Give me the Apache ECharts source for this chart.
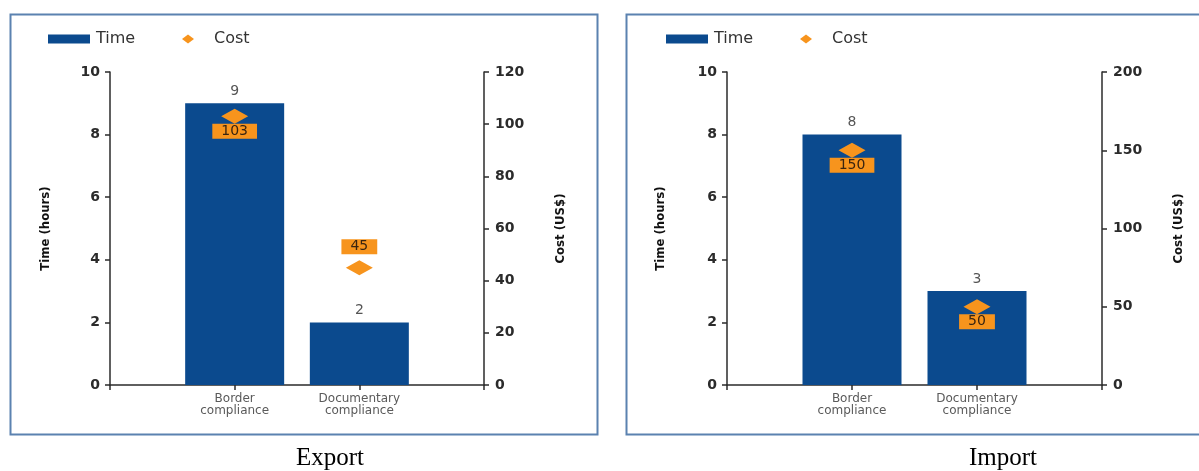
<!DOCTYPE html>
<html>
<head>
<meta charset="utf-8">
<script src="https://cdn.jsdelivr.net/npm/echarts@6/dist/echarts.min.js"></script>
<style>
  html, body { margin: 0; padding: 0; background: #ffffff; }
  #chart { width: 1199px; height: 471px; }
</style>
</head>
<body>
<div id="chart"></div>
<script>
// Procedures shown on the category axis
const categories = ['Border\ncompliance', 'Documentary\ncompliance'];

// Export: time in hours and cost in US$
const exportTime = [9, 2];
const exportCost = [103, 45];

// Import: time in hours and cost in US$
const importTime = [8, 3];
const importCost = [150, 50];

// Axis ranges
const timeAxis = { min: 0, max: 10, interval: 2 };
const exportCostAxis = { min: 0, max: 120, interval: 20 };
const importCostAxis = { min: 0, max: 200, interval: 50 };

const panelTitles = ['Export', 'Import'];

const BLUE = '#0b4a8e';
const ORANGE = '#f7941d';
const AXIS = '#2b2b2b';

// The category axis has an empty slot at each end so the two bars sit in the middle
const padCats = ['', ...categories, ''];
const pad = arr => ['-', ...arr, '-'];

function costData(values, positions) {
  return pad(values).map((v, i) => {
    if (v === '-') return v;
    const pos = positions[i - 1];
    return { value: v, label: { position: pos, distance: pos === 'top' ? 6 : 0 } };
  });
}

function valueLabel(margin) {
  return { color: AXIS, fontFamily: 'DejaVu Sans', fontWeight: 'bold', fontSize: 14, margin };
}
const axisNameStyle = {
  fontFamily: "'DejaVu Sans Condensed', 'Liberation Sans Narrow', 'Liberation Sans', sans-serif",
  fontWeight: 'bold', fontSize: 13, color: '#111'
};

function yAxes(gridIndex, costRange, leftGap, rightGap) {
  return [
    {
      type: 'value', gridIndex, position: 'left', ...timeAxis,
      name: 'Time (hours)', nameLocation: 'middle', nameGap: leftGap, nameTextStyle: axisNameStyle,
      axisLine: { show: true, lineStyle: { color: AXIS, width: 1.5 } },
      axisTick: { show: true, length: 5, lineStyle: { color: AXIS, width: 1.5 } },
      axisLabel: valueLabel(10),
      splitLine: { show: false }
    },
    {
      type: 'value', gridIndex, position: 'right', ...costRange,
      name: 'Cost (US$)', nameLocation: 'middle', nameGap: rightGap, nameTextStyle: axisNameStyle,
      axisLine: { show: true, lineStyle: { color: AXIS, width: 1.5 } },
      axisTick: { show: true, length: 5, lineStyle: { color: AXIS, width: 1.5 } },
      axisLabel: valueLabel(11),
      splitLine: { show: false }
    }
  ];
}

function xAxis(gridIndex) {
  return {
    type: 'category', gridIndex, data: padCats, boundaryGap: false,
    axisLine: { lineStyle: { color: AXIS, width: 1.5 } },
    axisTick: { show: true, length: 5, lineStyle: { color: AXIS, width: 1.5 } },
    axisLabel: {
      color: '#5a5a5a', fontFamily: 'DejaVu Sans', fontSize: 12, lineHeight: 12, margin: 8,
      interval: 0
    }
  };
}

function barSeries(data, xi, yi) {
  return {
    name: 'Time', type: 'bar', xAxisIndex: xi, yAxisIndex: yi, data: pad(data),
    barWidth: 99, itemStyle: { color: BLUE },
    label: { show: true, position: 'top', distance: 5, color: '#555', fontSize: 14, fontFamily: 'DejaVu Sans' },
    z: 2
  };
}

function costSeries(data, xi, yi) {
  return {
    name: 'Cost', type: 'scatter', xAxisIndex: xi, yAxisIndex: yi, data,
    symbol: 'diamond', symbolSize: [27, 15], itemStyle: { color: ORANGE, opacity: 1 },
    label: {
      show: true, color: '#3a2410', backgroundColor: ORANGE, fontFamily: 'DejaVu Sans',
      fontSize: 14, lineHeight: 15, padding: [0, 9]
    },
    z: 3
  };
}

function legends(left) {
  const text = { color: '#333', fontFamily: 'DejaVu Sans', fontSize: 16 };
  return [
    { data: [{ name: 'Time', icon: 'rect' }], left, top: 26, itemWidth: 42, itemHeight: 9,
      textStyle: { ...text, padding: [0, 0, 0, 1] }, selectedMode: false },
    { data: [{ name: 'Cost', icon: 'diamond' }], left: left + 134, top: 26, itemWidth: 12, itemHeight: 9,
      textStyle: { ...text, padding: [0, 0, 0, 15] }, selectedMode: false }
  ];
}

const chart = echarts.init(document.getElementById('chart'), null, { renderer: 'canvas' });

chart.setOption({
  animation: false,
  backgroundColor: '#ffffff',
  title: [
    { text: panelTitles[0], left: 325, top: 441, textAlign: 'center',
      textStyle: { fontFamily: 'Liberation Serif', fontWeight: 'normal', fontSize: 25, color: '#000' } },
    { text: panelTitles[1], left: 998, top: 441, textAlign: 'center',
      textStyle: { fontFamily: 'Liberation Serif', fontWeight: 'normal', fontSize: 25, color: '#000' } }
  ],
  legend: [...legends(43), ...legends(661)],
  grid: [
    { left: 110, right: 715, top: 72, bottom: 86 },
    { left: 727, right: 97, top: 72, bottom: 86 }
  ],
  xAxis: [xAxis(0), xAxis(1)],
  yAxis: [...yAxes(0, exportCostAxis, 58, 70), ...yAxes(1, importCostAxis, 60, 70)],
  series: [
    barSeries(exportTime, 0, 0),
    costSeries(costData(exportCost, ['bottom', 'top']), 0, 1),
    barSeries(importTime, 1, 2),
    costSeries(costData(importCost, ['bottom', 'bottom']), 1, 3)
  ],
  graphic: [
    { type: 'rect', shape: { x: 10.5, y: 14.5, width: 587, height: 420 },
      style: { fill: 'none', stroke: '#5b82b0', lineWidth: 2 }, silent: true },
    { type: 'rect', shape: { x: 626.5, y: 14.5, width: 585, height: 420 },
      style: { fill: 'none', stroke: '#5b82b0', lineWidth: 2 }, silent: true }
  ]
});
</script>
</body>
</html>
